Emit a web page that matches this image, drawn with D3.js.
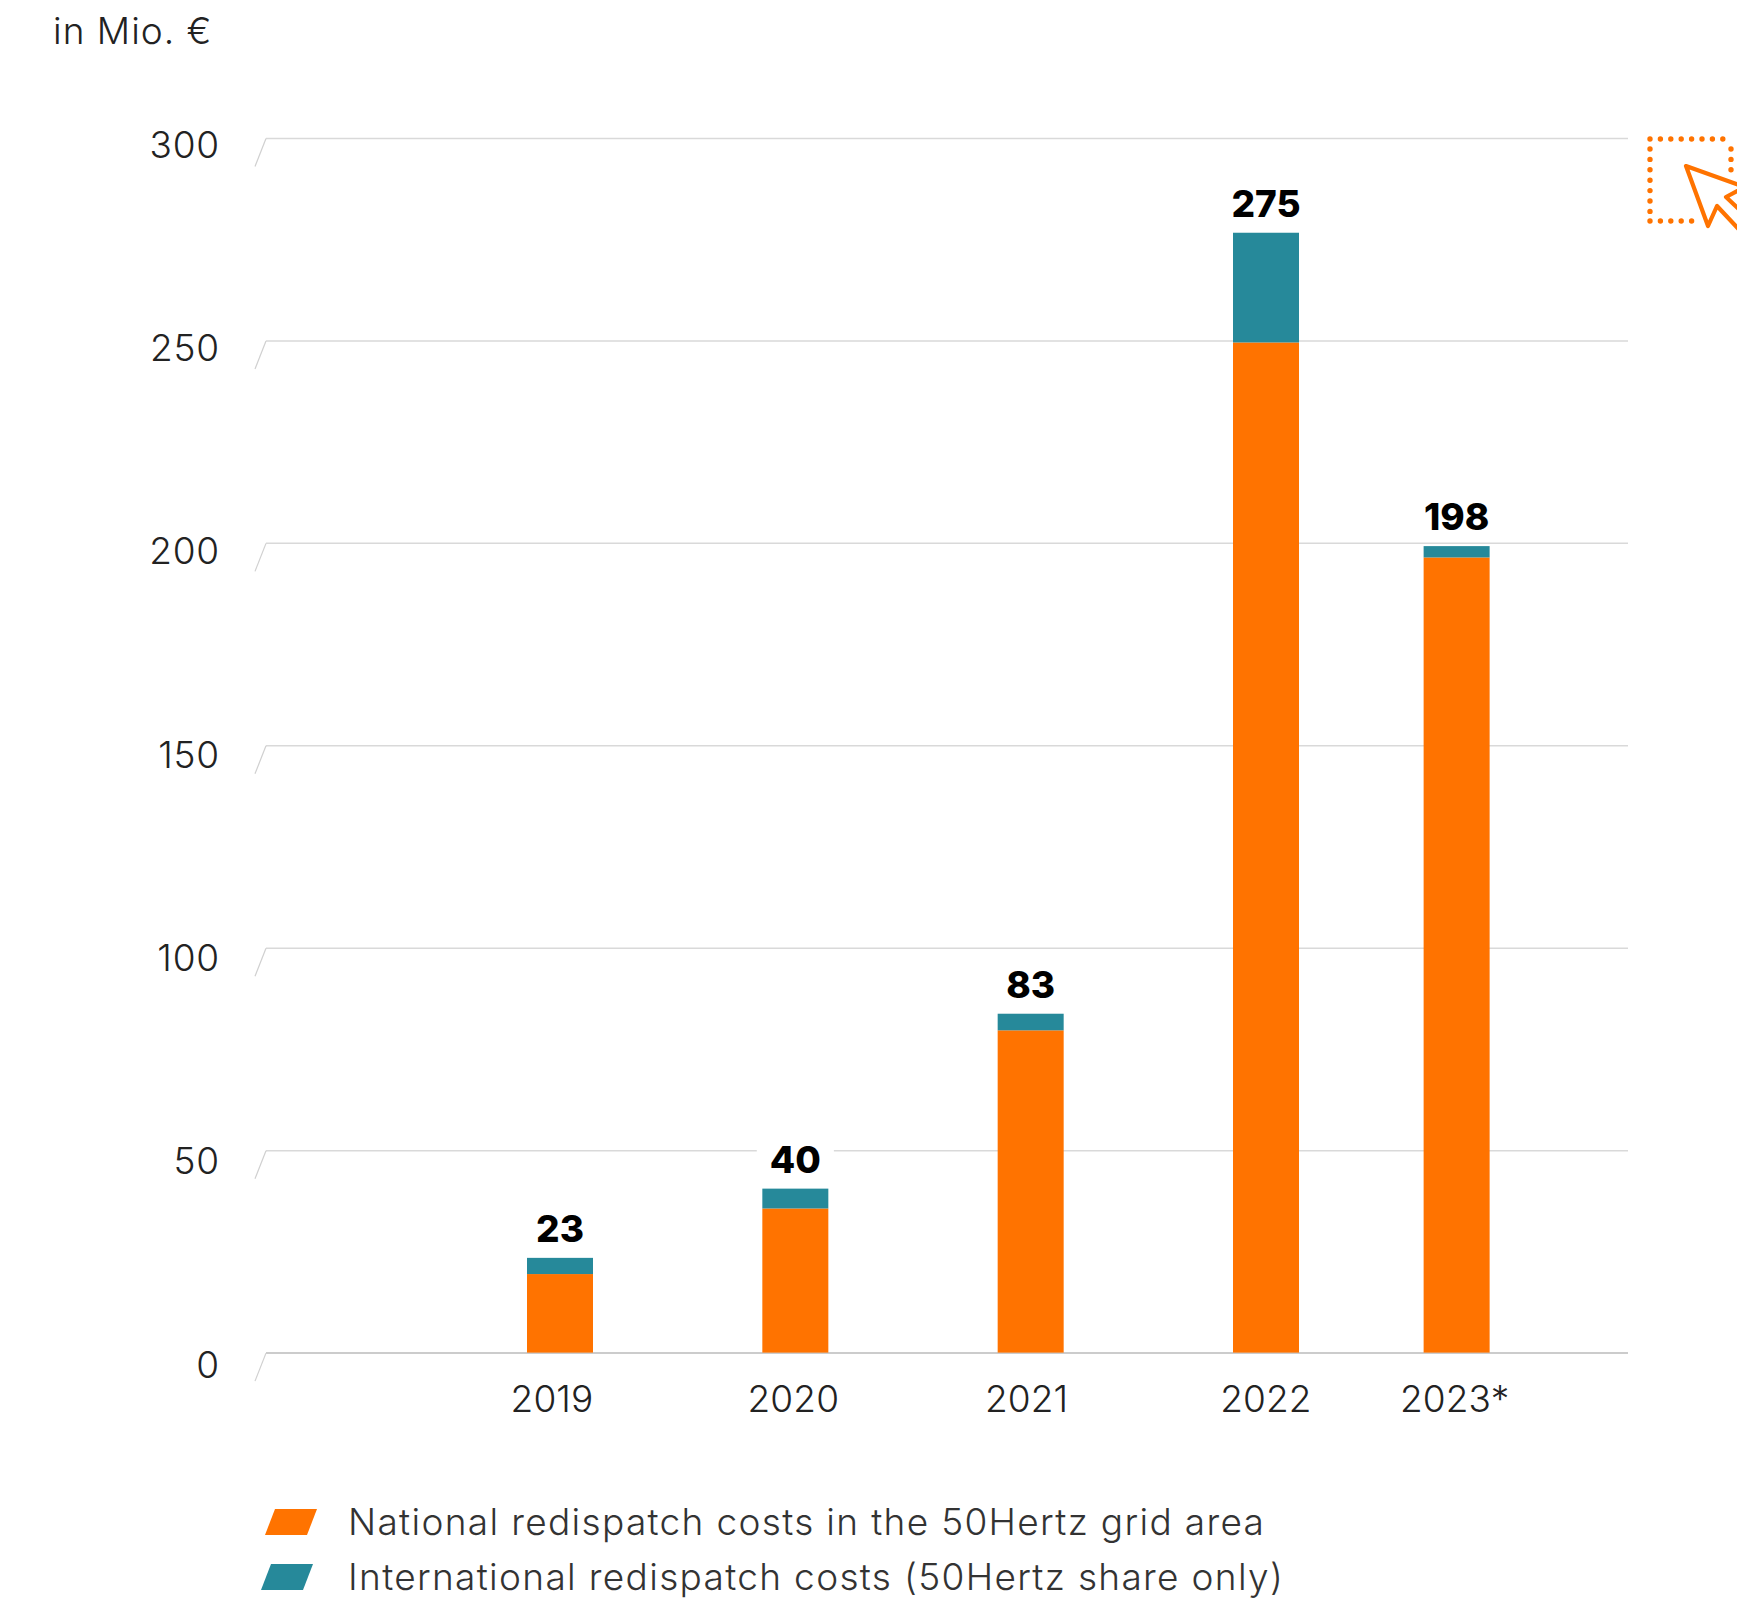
<!DOCTYPE html>
<html><head><meta charset="utf-8">
<script src="https://cdnjs.cloudflare.com/ajax/libs/d3/7.8.5/d3.min.js"></script>
<style>html,body{margin:0;padding:0;background:#fff;overflow:hidden}svg{display:block}text{font-family:Inter,"Open Sans",sans-serif}</style>
</head><body><svg id="c" width="1737" height="1602"></svg>
<script>
const categories=["2019","2020","2021","2022","2023*"];
const slots=[0,1,2,3,3.81];
const national=[19.4,35.6,79.6,249.5,196.4];
const international=[4,4.9,4.1,27.1,2.8];
const totals=[23,40,83,275,198];
const yTicks=[0,50,100,150,200,250,300];
const legendLabels=["National redispatch costs in the 50Hertz grid area","International redispatch costs (50Hertz share only)"];
const unitLabel="in Mio. €";
const colors=["#ff7300","#26899a"];
const svg=d3.select("#c");
const y=d3.scaleLinear().domain([0,300]).range([1352.6,138]);
const yLabel=d3.scaleLinear().domain([0,300]).range([1377,157]);
const x=d3.scaleLinear().domain([0,3]).range([560,1266]);
const barW=66;
const FS=37, LW=300;
const yAxis=d3.axisLeft(y).tickValues(yTicks).tickSize(0).tickPadding(0);
const gy=svg.append("g").attr("transform","translate(266,0)").call(yAxis);
gy.select(".domain").remove();
gy.selectAll(".tick").each(function(d){
  const t=d3.select(this);
  t.select("line").attr("x1",0).attr("x2",1362).attr("y1",0).attr("y2",0).attr("stroke",d===0?"#cccccc":"#d9d9d9").attr("stroke-width",d===0?2:1.5);
  t.append("path").attr("d","M0,0L-11,28").attr("fill","none").attr("stroke","#d0d0d0").attr("stroke-width",1.2);
  t.select("text").attr("x",-46).attr("y",yLabel(d)-y(d)).attr("dy",null).attr("text-anchor","end")
   .attr("font-size",FS).attr("font-weight",LW).attr("fill","#222").attr("font-family","Inter").attr("letter-spacing",0.8);
});
const g=svg.append("g");
categories.forEach((c,i)=>{
  const cx=x(slots[i]);
  const a=national[i], b=a+international[i];
  g.append("rect").attr("x",cx-barW/2).attr("width",barW).attr("y",y(a)).attr("height",y(0)-y(a)).attr("fill",colors[0]);
  g.append("rect").attr("x",cx-barW/2).attr("width",barW).attr("y",y(b)).attr("height",y(a)-y(b)).attr("fill",colors[1]);
  const by=y(b)-16;
  const bg=g.append("rect").attr("fill","#fff");
  const t=g.append("text").attr("x",cx).attr("y",by).attr("text-anchor","middle").attr("font-size",37).attr("font-weight",800).attr("fill","#000").text(totals[i]);
  const w=t.node().getComputedTextLength();
  bg.attr("x",cx-w/2-13).attr("width",w+26).attr("y",by-34).attr("height",40);
});
const shift=[-8,-2,-4,0,-2];
categories.forEach((c,i)=>{
  svg.append("text").attr("x",x(slots[i])+shift[i]).attr("y",1412).attr("text-anchor","middle").attr("font-size",FS).attr("font-weight",LW).attr("fill","#222").attr("letter-spacing",0.1).text(c);
});
svg.append("text").attr("x",53).attr("y",44).attr("font-size",FS).attr("font-weight",LW).attr("fill","#222").attr("letter-spacing",1).text(unitLabel);
const lg=[[1535,0],[1590,-4]];
legendLabels.forEach((l,i)=>{
  const [b,d]=lg[i];
  svg.append("path").attr("d",`M${275+d},${b-26}H${317+d}L${307+d},${b}H${265+d}Z`).attr("fill",colors[i]);
  svg.append("text").attr("x",348).attr("y",b).attr("font-size",FS).attr("font-weight",LW).attr("fill","#333").attr("letter-spacing",1.33).text(l);
});
const ic=svg.append("g").attr("fill","none").attr("stroke","#ff7300");
ic.append("path").attr("d","M1650,139H1732M1731,149V171M1650,149V221M1650,221H1694").attr("stroke-width",5.4).attr("stroke-linecap","round").attr("stroke-dasharray","0 10.4");
ic.append("path").attr("d","M1686,166L1745,187L1726,197L1745,215V236L1717,206L1708,226Z").attr("stroke-width",4.2).attr("stroke-linejoin","round");
</script></body></html>
